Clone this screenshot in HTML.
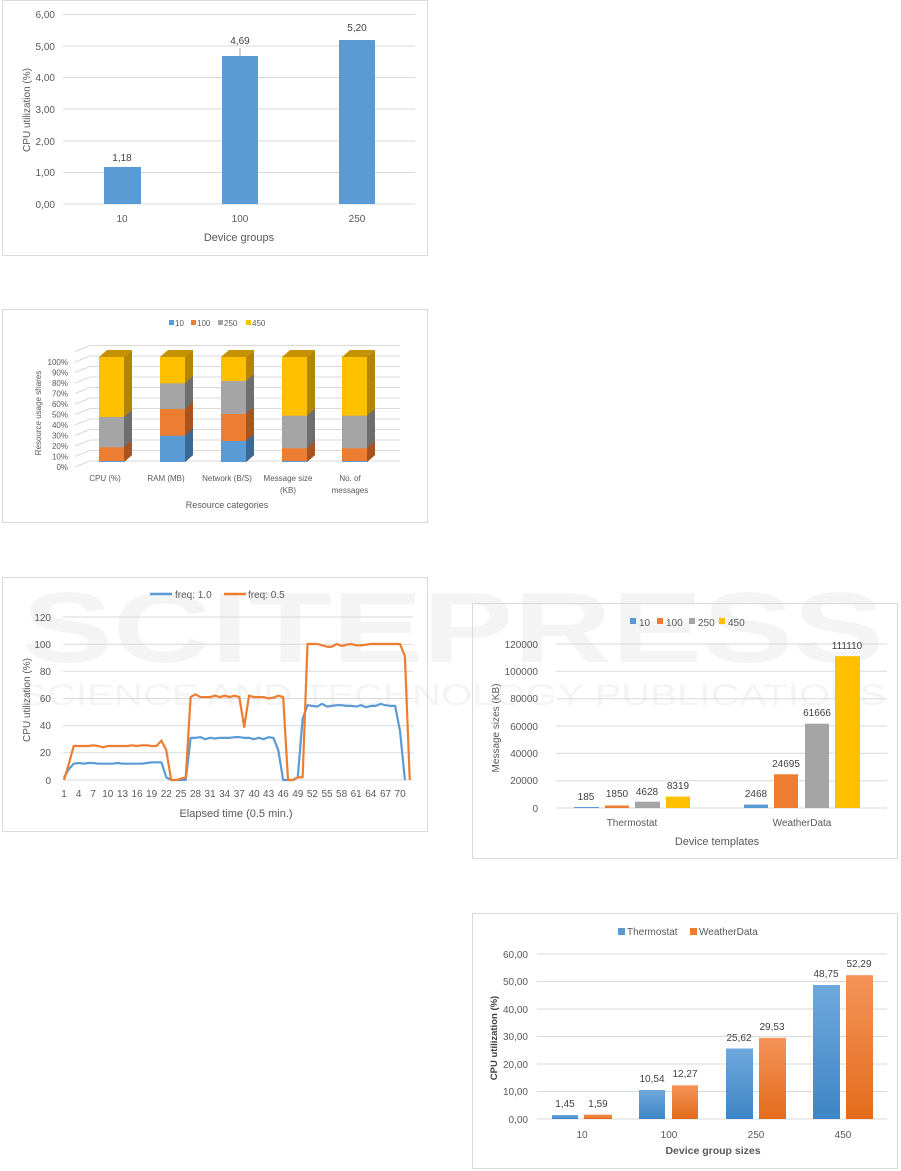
<!DOCTYPE html>
<html><head><meta charset="utf-8"><style>
html,body{margin:0;padding:0;background:#fff;}
svg{display:block;font-family:"Liberation Sans",sans-serif;}
</style></head><body>
<svg width="901" height="1171" viewBox="0 0 901 1171" xmlns="http://www.w3.org/2000/svg">
<!-- watermark -->
<g fill="#f4f4f4">
<text x="22" y="662" font-size="100" font-weight="bold" textLength="862" lengthAdjust="spacingAndGlyphs">SCITEPRESS</text>
<text x="20" y="705" font-size="30" textLength="866" lengthAdjust="spacingAndGlyphs">SCIENCE AND TECHNOLOGY PUBLICATIONS</text>
</g>

<!-- Chart 1 -->
<rect x="2.5" y="0.5" width="425" height="255" fill="none" stroke="#d9d9d9"/>
<g stroke="#d9d9d9" stroke-width="1">
<line x1="63" y1="14.5" x2="415" y2="14.5"/><line x1="63" y1="46" x2="415" y2="46"/><line x1="63" y1="77.5" x2="415" y2="77.5"/><line x1="63" y1="109" x2="415" y2="109"/><line x1="63" y1="141" x2="415" y2="141"/><line x1="63" y1="172.5" x2="415" y2="172.5"/><line x1="63" y1="204" x2="415" y2="204"/>
</g>
<g font-size="10" fill="#595959" text-anchor="end">
<text x="55" y="18">6,00</text><text x="55" y="50">5,00</text><text x="55" y="81">4,00</text><text x="55" y="113">3,00</text><text x="55" y="145">2,00</text><text x="55" y="176">1,00</text><text x="55" y="208">0,00</text>
</g>
<g fill="#5b9bd5">
<rect x="104" y="167" width="37" height="37"/><rect x="222" y="56" width="36" height="148"/><rect x="339" y="40" width="36" height="164"/>
</g>
<line x1="240" y1="48" x2="240" y2="56" stroke="#a6a6a6"/>
<g font-size="10" fill="#404040" text-anchor="middle">
<text x="122" y="161">1,18</text><text x="240" y="44">4,69</text><text x="357" y="31">5,20</text>
</g>
<g font-size="10" fill="#595959" text-anchor="middle">
<text x="122" y="222">10</text><text x="240" y="222">100</text><text x="357" y="222">250</text>
<text x="239" y="241" font-size="11">Device groups</text>
</g>
<text transform="translate(30,110) rotate(-90)" font-size="10" fill="#595959" text-anchor="middle">CPU  utilization (%)</text>

<!-- Chart 2 -->
<rect x="2.5" y="309.5" width="425" height="213" fill="none" stroke="#d9d9d9"/>
<g font-size="8" fill="#595959">
<rect x="169" y="320" width="5" height="5" fill="#5b9bd5"/><text x="175" y="326">10</text>
<rect x="191" y="320" width="5" height="5" fill="#ed7d31"/><text x="197" y="326">100</text>
<rect x="218" y="320" width="5" height="5" fill="#a5a5a5"/><text x="224" y="326">250</text>
<rect x="246" y="320" width="5" height="5" fill="#ffc000"/><text x="252" y="326">450</text>
</g>
<g stroke="#d9d9d9" fill="none">
<polyline points="75,467 90,461 400,461"/><polyline points="75,456.5 90,450.5 400,450.5"/><polyline points="75,446 90,440 400,440"/><polyline points="75,435.5 90,429.5 400,429.5"/><polyline points="75,425 90,419 400,419"/><polyline points="75,414.5 90,408.5 400,408.5"/><polyline points="75,404 90,398 400,398"/><polyline points="75,393.5 90,387.5 400,387.5"/><polyline points="75,383 90,377 400,377"/><polyline points="75,372.5 90,366.5 400,366.5"/><polyline points="75,362 90,356 400,356"/><polyline points="75,351.5 90,345.5 400,345.5"/>
</g>
<g font-size="8" fill="#595959" text-anchor="end">
<text x="68" y="365">100%</text><text x="68" y="375.5">90%</text><text x="68" y="386">80%</text><text x="68" y="396.5">70%</text><text x="68" y="407">60%</text><text x="68" y="417.5">50%</text><text x="68" y="428">40%</text><text x="68" y="438.5">30%</text><text x="68" y="449">20%</text><text x="68" y="459.5">10%</text><text x="68" y="470">0%</text>
</g>
<g transform="translate(99,0)">
<rect x="0" y="357" width="25" height="105" fill="#ffc000"/><polygon points="25,462 33,455 33,350 25,357" fill="#b38600"/><polygon points="0,357 8,350 33,350 25,357" fill="#c49200"/>
<rect x="0" y="417" width="25" height="45" fill="#a5a5a5"/><polygon points="25,462 33,455 33,410 25,417" fill="#6e6e6e"/>
<rect x="0" y="447.3" width="25" height="14.7" fill="#ed7d31"/><polygon points="25,462 33,455 33,440.3 25,447.3" fill="#a9531f"/>
<rect x="0" y="461" width="25" height="1" fill="#5b9bd5"/>
</g>
<g transform="translate(160,0)">
<rect x="0" y="357" width="25" height="105" fill="#ffc000"/><polygon points="25,462 33,455 33,350 25,357" fill="#b38600"/><polygon points="0,357 8,350 33,350 25,357" fill="#c49200"/>
<rect x="0" y="383.3" width="25" height="78.7" fill="#a5a5a5"/><polygon points="25,462 33,455 33,376.3 25,383.3" fill="#6e6e6e"/>
<rect x="0" y="409" width="25" height="53" fill="#ed7d31"/><polygon points="25,462 33,455 33,402 25,409" fill="#a9531f"/>
<rect x="0" y="435.8" width="25" height="26.2" fill="#5b9bd5"/><polygon points="25,462 33,455 33,428.8 25,435.8" fill="#3a6a94"/>
</g>
<g transform="translate(221,0)">
<rect x="0" y="357" width="25" height="105" fill="#ffc000"/><polygon points="25,462 33,455 33,350 25,357" fill="#b38600"/><polygon points="0,357 8,350 33,350 25,357" fill="#c49200"/>
<rect x="0" y="381" width="25" height="81" fill="#a5a5a5"/><polygon points="25,462 33,455 33,374 25,381" fill="#6e6e6e"/>
<rect x="0" y="414" width="25" height="48" fill="#ed7d31"/><polygon points="25,462 33,455 33,407 25,414" fill="#a9531f"/>
<rect x="0" y="441" width="25" height="21" fill="#5b9bd5"/><polygon points="25,462 33,455 33,434 25,441" fill="#3a6a94"/>
</g>
<g transform="translate(282,0)">
<rect x="0" y="357" width="25" height="105" fill="#ffc000"/><polygon points="25,462 33,455 33,350 25,357" fill="#b38600"/><polygon points="0,357 8,350 33,350 25,357" fill="#c49200"/>
<rect x="0" y="415.7" width="25" height="46.3" fill="#a5a5a5"/><polygon points="25,462 33,455 33,408.7 25,415.7" fill="#6e6e6e"/>
<rect x="0" y="448.3" width="25" height="13.7" fill="#ed7d31"/><polygon points="25,462 33,455 33,441.3 25,448.3" fill="#a9531f"/>
<rect x="0" y="461" width="25" height="1" fill="#5b9bd5"/>
</g>
<g transform="translate(342,0)">
<rect x="0" y="357" width="25" height="105" fill="#ffc000"/><polygon points="25,462 33,455 33,350 25,357" fill="#b38600"/><polygon points="0,357 8,350 33,350 25,357" fill="#c49200"/>
<rect x="0" y="415.7" width="25" height="46.3" fill="#a5a5a5"/><polygon points="25,462 33,455 33,408.7 25,415.7" fill="#6e6e6e"/>
<rect x="0" y="448.3" width="25" height="13.7" fill="#ed7d31"/><polygon points="25,462 33,455 33,441.3 25,448.3" fill="#a9531f"/>
<rect x="0" y="461" width="25" height="1" fill="#5b9bd5"/>
</g>
<g font-size="8" fill="#595959" text-anchor="middle">
<text x="105" y="481">CPU (%)</text><text x="166" y="481">RAM (MB)</text><text x="227" y="481">Network (B/S)</text><text x="288" y="481">Message size</text><text x="288" y="493">(KB)</text><text x="350" y="481">No. of</text><text x="350" y="493">messages</text>
<text x="227" y="508" font-size="9">Resource categories</text>
</g>
<text transform="translate(41,413) rotate(-90)" font-size="8" fill="#595959" text-anchor="middle">Resource usage shares</text>

<!-- Chart 3 -->
<rect x="2.5" y="577.5" width="425" height="254" fill="none" stroke="#d9d9d9"/>
<line x1="150" y1="594" x2="172" y2="594" stroke="#5b9bd5" stroke-width="2.5"/><text x="175" y="598" font-size="10" fill="#595959">freq: 1.0</text>
<line x1="224" y1="594" x2="246" y2="594" stroke="#ed7d31" stroke-width="2.5"/><text x="248" y="598" font-size="10" fill="#595959">freq: 0.5</text>
<g stroke="#d9d9d9">
<line x1="63" y1="617" x2="413" y2="617"/><line x1="63" y1="644.2" x2="413" y2="644.2"/><line x1="63" y1="671.3" x2="413" y2="671.3"/><line x1="63" y1="698.5" x2="413" y2="698.5"/><line x1="63" y1="725.7" x2="413" y2="725.7"/><line x1="63" y1="752.8" x2="413" y2="752.8"/><line x1="63" y1="780" x2="413" y2="780"/>
</g>
<g font-size="10" fill="#595959" text-anchor="end">
<text x="51" y="621">120</text><text x="51" y="648">100</text><text x="51" y="675">80</text><text x="51" y="702">60</text><text x="51" y="729">40</text><text x="51" y="756">20</text><text x="51" y="784">0</text>
</g>
<g transform="translate(64,780) scale(4.87,-1.36)" fill="none">
<polyline vector-effect="non-scaling-stroke" stroke="#5b9bd5" stroke-width="2.2" stroke-linejoin="round" points="0,2 1,8 2,12 3,12.5 4,12 5,12.5 6,12.5 7,12 8,12 9,12 10,12 11,12.5 12,12 13,12 14,12 15,12 16,12 17,12.5 18,13 19,13 20,13 21,2 22,0 23,0 24,0 25,0 26,31 27,31 28,31.5 29,30 30,31 31,30.5 32,31 33,31 34,31 35,31.5 36,31.5 37,31 38,31 39,30 40,31 41,30 42,31.5 43,31 44,22 45,0 46,0 47,0 48,2 49,45 50,55 51,54.5 52,54 53,56 54,54 55,54.5 56,55 57,55 58,54.5 59,54.5 60,54 61,55 62,53.5 63,54.5 64,54.5 65,56 66,55 67,54.5 68,54.5 69,36 70,0"/>
<polyline vector-effect="non-scaling-stroke" stroke="#ed7d31" stroke-width="2.2" stroke-linejoin="round" points="0,0 1,12 2,25 3,25 4,25 5,25 6,25.5 7,25 8,24 9,25 10,25 11,25 12,25 13,25 14,25.5 15,25 16,25.5 17,25.5 18,25 19,25 20,29 21,22 22,0 23,0 24,1 25,2 26,61 27,63 28,61 29,61 30,61 31,62 32,61 33,62 34,61 35,62 36,61 37,39 38,62 39,61 40,61 41,61 42,60 43,60.5 44,62 45,61 46,0 47,0 48,2 49,2 50,100 51,100 52,100 53,99 54,98 55,98 56,100 57,98.5 58,99.5 59,100 60,99 61,99 62,99.5 63,100 64,100 65,100 66,100 67,100 68,100 69,100 70,91 71,0"/>
</g>
<g font-size="10" fill="#595959" text-anchor="middle">
<text x="64" y="797">1</text><text x="78.6" y="797">4</text><text x="93.2" y="797">7</text><text x="107.8" y="797">10</text><text x="122.5" y="797">13</text><text x="137.1" y="797">16</text><text x="151.7" y="797">19</text><text x="166.3" y="797">22</text><text x="180.9" y="797">25</text><text x="195.5" y="797">28</text><text x="210.1" y="797">31</text><text x="224.7" y="797">34</text><text x="239.3" y="797">37</text><text x="254" y="797">40</text><text x="268.6" y="797">43</text><text x="283.2" y="797">46</text><text x="297.8" y="797">49</text><text x="312.4" y="797">52</text><text x="327" y="797">55</text><text x="341.6" y="797">58</text><text x="356.2" y="797">61</text><text x="370.8" y="797">64</text><text x="385.5" y="797">67</text><text x="400.1" y="797">70</text>
<text x="236" y="817" font-size="11">Elapsed time (0.5 min.)</text>
</g>
<text transform="translate(30,700) rotate(-90)" font-size="10" fill="#595959" text-anchor="middle">CPU utilization (%)</text>

<!-- Chart 4 -->
<rect x="472.5" y="603.5" width="425" height="255" fill="none" stroke="#d9d9d9"/>
<g font-size="10" fill="#595959">
<rect x="630" y="618" width="6" height="6" fill="#5b9bd5"/><text x="639" y="626">10</text>
<rect x="657" y="618" width="6" height="6" fill="#ed7d31"/><text x="666" y="626">100</text>
<rect x="689" y="618" width="6" height="6" fill="#a5a5a5"/><text x="698" y="626">250</text>
<rect x="719" y="618" width="6" height="6" fill="#ffc000"/><text x="728" y="626">450</text>
</g>
<g stroke="#d9d9d9">
<line x1="556" y1="644" x2="887" y2="644"/><line x1="556" y1="671.3" x2="887" y2="671.3"/><line x1="556" y1="698.7" x2="887" y2="698.7"/><line x1="556" y1="726" x2="887" y2="726"/><line x1="556" y1="753.3" x2="887" y2="753.3"/><line x1="556" y1="780.7" x2="887" y2="780.7"/><line x1="556" y1="808" x2="887" y2="808"/>
</g>
<g font-size="10" fill="#595959" text-anchor="end">
<text x="538" y="648">120000</text><text x="538" y="675">100000</text><text x="538" y="702">80000</text><text x="538" y="730">60000</text><text x="538" y="757">40000</text><text x="538" y="784">20000</text><text x="538" y="812">0</text>
</g>
<rect x="574" y="807" width="25" height="1" fill="#5b9bd5"/>
<rect x="605" y="805.5" width="24" height="2.5" fill="#ed7d31"/>
<rect x="635" y="801.7" width="25" height="6.3" fill="#a5a5a5"/>
<rect x="666" y="796.6" width="24" height="11.4" fill="#ffc000"/>
<rect x="744" y="804.6" width="24" height="3.4" fill="#5b9bd5"/>
<rect x="774" y="774.3" width="24" height="33.7" fill="#ed7d31"/>
<rect x="805" y="723.7" width="24" height="84.3" fill="#a5a5a5"/>
<rect x="835" y="656.2" width="25" height="151.8" fill="#ffc000"/>
<g font-size="10" fill="#404040" text-anchor="middle">
<text x="586" y="800">185</text><text x="617" y="797">1850</text><text x="647" y="795">4628</text><text x="678" y="789">8319</text>
<text x="756" y="797">2468</text><text x="786" y="767">24695</text><text x="817" y="716">61666</text><text x="847" y="649">111110</text>
</g>
<g font-size="10" fill="#595959" text-anchor="middle">
<text x="632" y="826">Thermostat</text><text x="802" y="826">WeatherData</text>
<text x="717" y="845" font-size="11">Device templates</text>
</g>
<text transform="translate(499,728) rotate(-90)" font-size="10" fill="#595959" text-anchor="middle">Message sizes (KB)</text>

<!-- Chart 5 -->
<defs>
<linearGradient id="gb" x1="0" y1="0" x2="0" y2="1"><stop offset="0" stop-color="#6fa8dc"/><stop offset="1" stop-color="#3d85c6"/></linearGradient>
<linearGradient id="go" x1="0" y1="0" x2="0" y2="1"><stop offset="0" stop-color="#f4935a"/><stop offset="1" stop-color="#e36c1a"/></linearGradient>
</defs>
<rect x="472.5" y="913.5" width="425" height="255" fill="none" stroke="#d9d9d9"/>
<g font-size="10" fill="#595959">
<rect x="618" y="928" width="7" height="7" fill="#5b9bd5"/><text x="627" y="935">Thermostat</text>
<rect x="690" y="928" width="7" height="7" fill="#ed7d31"/><text x="699" y="935">WeatherData</text>
</g>
<g stroke="#d9d9d9">
<line x1="537" y1="954" x2="887" y2="954"/><line x1="537" y1="981.5" x2="887" y2="981.5"/><line x1="537" y1="1009" x2="887" y2="1009"/><line x1="537" y1="1036.5" x2="887" y2="1036.5"/><line x1="537" y1="1064" x2="887" y2="1064"/><line x1="537" y1="1091.5" x2="887" y2="1091.5"/><line x1="537" y1="1119" x2="887" y2="1119"/>
</g>
<g font-size="10" fill="#595959" text-anchor="end">
<text x="528" y="958">60,00</text><text x="528" y="985">50,00</text><text x="528" y="1013">40,00</text><text x="528" y="1040">30,00</text><text x="528" y="1068">20,00</text><text x="528" y="1095">10,00</text><text x="528" y="1123">0,00</text>
</g>
<rect x="552" y="1115" width="26" height="4" fill="url(#gb)"/>
<rect x="584" y="1114.6" width="28" height="4.4" fill="url(#go)"/>
<rect x="639" y="1090" width="26" height="29" fill="url(#gb)"/>
<rect x="672" y="1085.3" width="26" height="33.7" fill="url(#go)"/>
<rect x="726" y="1048.5" width="27" height="70.5" fill="url(#gb)"/>
<rect x="759" y="1037.8" width="27" height="81.2" fill="url(#go)"/>
<rect x="813" y="985" width="27" height="134" fill="url(#gb)"/>
<rect x="846" y="975.2" width="27" height="143.8" fill="url(#go)"/>
<g font-size="10" fill="#404040" text-anchor="middle">
<text x="565" y="1107">1,45</text><text x="598" y="1107">1,59</text>
<text x="652" y="1082">10,54</text><text x="685" y="1077">12,27</text>
<text x="739" y="1041">25,62</text><text x="772" y="1030">29,53</text>
<text x="826" y="977">48,75</text><text x="859" y="967">52,29</text>
</g>
<g font-size="10" fill="#595959" text-anchor="middle">
<text x="582" y="1138">10</text><text x="669" y="1138">100</text><text x="756" y="1138">250</text><text x="843" y="1138">450</text>
<text x="713" y="1154" font-size="10.5" font-weight="bold">Device group sizes</text>
</g>
<text transform="translate(497,1038) rotate(-90)" font-size="9.5" font-weight="bold" fill="#404040" text-anchor="middle">CPU utilization (%)</text>
</svg>
</body></html>
